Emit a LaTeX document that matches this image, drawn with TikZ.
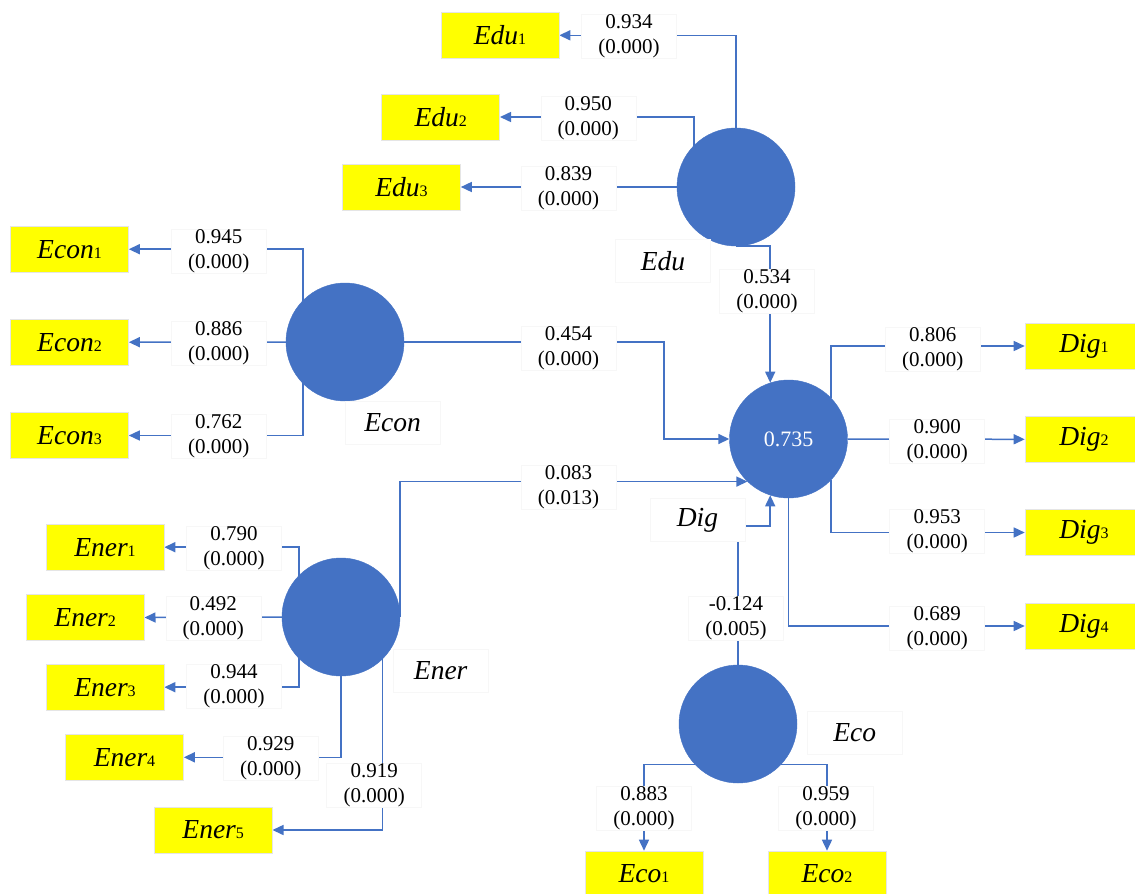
\documentclass[tikz,border=0pt]{standalone}
\usepackage{fontspec}
\setmainfont{Liberation Serif}
\usetikzlibrary{arrows.meta,backgrounds,calc}
\definecolor{pblue}{HTML}{4472C4}
\definecolor{pyel}{HTML}{FFFF00}
\newcommand{\indlab}[2]{{\fontsize{27.5}{30}\selectfont\itshape #1}{\fontsize{16}{16}\selectfont #2}}
\begin{document}
\begin{tikzpicture}[x=1pt,y=-1pt,
  lv/.style={circle,fill=pblue,draw=pblue,minimum size=118pt,inner sep=0pt},
  ind/.style={rectangle,fill=pyel,draw=black!10,line width=0.6pt,minimum width=118pt,minimum height=46pt,inner sep=0pt},
  coef/.style={rectangle,fill=white,draw=black!3,line width=0.5pt,minimum width=95pt,minimum height=44pt,inner sep=0pt,align=center,font=\fontsize{21}{25}\selectfont},
  lvname/.style={rectangle,fill=white,draw=black!3,line width=0.5pt,minimum width=95pt,minimum height=43pt,inner sep=0pt,font=\fontsize{27.5}{30}\selectfont\itshape},
  conn/.style={draw=pblue,line width=1.5pt},
  arr/.style={conn,-{Triangle[length=11pt,width=10pt]}},
]
\useasboundingbox (0,0) rectangle (1135,894);
\begin{pgfonlayer}{background}
\fill[white] (0,0) rectangle (1135,894);
\end{pgfonlayer}
\clip (0,0) rectangle (1135,894);

% latent variables
\node[lv] (edu) at (736,187) {};
\node[lv] (econ) at (345,342) {};
\node[lv] (ener) at (341,617) {};
\node[lv,text=white,font=\fontsize{22}{22}\selectfont] (dig) at (788.5,439) {0.735};
\node[lv] (eco) at (738,724) {};

% indicators
\node[ind] (edu1) at (500,35.3) {\indlab{Edu}{1}};
\node[ind] (edu2) at (440.7,117) {\indlab{Edu}{2}};
\node[ind] (edu3) at (401.5,187) {\indlab{Edu}{3}};
\node[ind] (econ1) at (69.5,249.2) {\indlab{Econ}{1}};
\node[ind] (econ2) at (69.5,342.2) {\indlab{Econ}{2}};
\node[ind] (econ3) at (69.5,435.5) {\indlab{Econ}{3}};
\node[ind] (ener1) at (105,547.2) {\indlab{Ener}{1}};
\node[ind] (ener2) at (85.2,617.5) {\indlab{Ener}{2}};
\node[ind] (ener3) at (105,687.2) {\indlab{Ener}{3}};
\node[ind] (ener4) at (124.5,757.3) {\indlab{Ener}{4}};
\node[ind] (ener5) at (213.2,830) {\indlab{Ener}{5}};
\node[ind] (dig1) at (1084,346) {\indlab{Dig}{1}};
\node[ind] (dig2) at (1084,439.3) {\indlab{Dig}{2}};
\node[ind] (dig3) at (1084,532.5) {\indlab{Dig}{3}};
\node[ind] (dig4) at (1084,626) {\indlab{Dig}{4}};
\node[ind] (eco1) at (644,874) {\indlab{Eco}{1}};
\node[ind] (eco2) at (827,874) {\indlab{Eco}{2}};

% bend coordinates
\coordinate (econTurn) at (664,342);
\coordinate (ecoTurn) at (738,526);

% connectors
\begin{pgfonlayer}{background}
\draw[arr] (edu.north) |- (edu1.east);
\draw[arr] ([xshift=-42pt]edu.center) |- (edu2.east);
\draw[arr] (edu.center) -- (edu3.east);
\draw[arr] (edu.south) -| (dig.108);
\draw[arr] ([xshift=-42pt]econ.center) |- (econ1.east);
\draw[arr] (econ.center) -- (econ2.east);
\draw[arr] ([xshift=-42pt]econ.center) |- (econ3.east);
\draw[arr] (econ.center) -- (econTurn) |- (dig.west);
\draw[arr] (ener.east) |- (dig.226);
\draw[arr] (eco.north) -- (ecoTurn) -| (dig.252);
\draw[arr] (dig.44) |- (dig1.west);
\draw[arr] (dig.east) -- (dig2.west);
\draw[arr] (dig.-44) |- (dig3.west);
\draw[arr] (dig.south) |- (dig4.west);
\draw[arr] (eco.223) -| (eco1.north);
\draw[arr] (eco.-43) -| (eco2.north);
\draw[arr] ([xshift=-42pt]ener.center) |- (ener1.east);
\draw[arr] (ener.center) -- (ener2.east);
\draw[arr] ([xshift=-42pt]ener.center) |- (ener3.east);
\draw[arr] (ener.south) |- (ener4.east);
\draw[arr] ([xshift=41.7pt]ener.center) |- (ener5.east);
\end{pgfonlayer}

% coefficient labels
\node[coef] (c1) at (629,36.7) {0.934\\(0.000)};
\node[coef] (c2) at (588.3,118.5) {0.950\\(0.000)};
\node[coef] (c3) at (568.5,188.3) {0.839\\(0.000)};
\node[coef] (c4) at (767,291) {0.534\\(0.000)};
\node[coef] (c5) at (218.7,250.8) {0.945\\(0.000)};
\node[coef] (c6) at (218.7,343.7) {0.886\\(0.000)};
\node[coef] (c7) at (218.7,436.7) {0.762\\(0.000)};
\node[coef] (c8) at (568.5,348.3) {0.454\\(0.000)};
\node[coef] (c9) at (568.5,487.5) {0.083\\(0.013)};
\node[coef] (c10) at (932.8,348.8) {0.806\\(0.000)};
\node[coef] (c11) at (937.2,440.8) {0.900\\(0.000)};
\node[coef] (c12) at (937.2,531) {0.953\\(0.000)};
\node[coef] (c13) at (937.2,628) {0.689\\(0.000)};
\node[coef] (c14) at (736,618) {-0.124\\(0.005)};
\node[coef] (c15) at (644,808) {0.883\\(0.000)};
\node[coef] (c16) at (826,808) {0.959\\(0.000)};
\node[coef] (c17) at (234,548.3) {0.790\\(0.000)};
\node[coef] (c18) at (213.3,618.3) {0.492\\(0.000)};
\node[coef] (c19) at (234,686) {0.944\\(0.000)};
\node[coef] (c20) at (270.8,758) {0.929\\(0.000)};
\node[coef] (c21) at (374.2,785) {0.919\\(0.000)};

% latent names
\node[lvname] (eduL) at (663,261) {Edu};
\node[lvname] (econL) at (392.5,423) {Econ};
\node[lvname] (enerL) at (440.7,671) {Ener};
\node[lvname] (digL) at (697.5,520) {Dig};
\node[lvname] (ecoL) at (854.7,732.3) {Eco};
\end{tikzpicture}
\end{document}
